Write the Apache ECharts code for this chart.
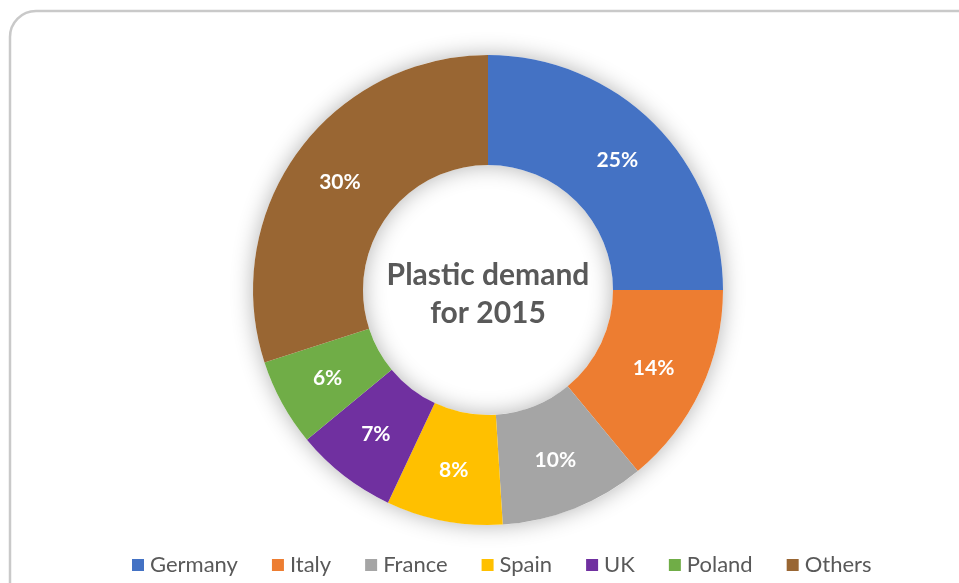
<!DOCTYPE html>
<html>
<head>
<meta charset="utf-8">
<script src="https://cdn.jsdelivr.net/npm/echarts@6/dist/echarts.min.js"></script>
<style>
  html, body { margin: 0; padding: 0; background: #ffffff; }
  #chart { width: 959px; height: 583px; }
</style>
</head>
<body>
<div id="chart"></div>
<script>
// Plastic demand share by country, 2015 (percent)
const countries = ['Germany', 'Italy', 'France', 'Spain', 'UK', 'Poland', 'Others'];
const shares = [25, 14, 10, 8, 7, 6, 30];
const colors = ['#4472C4', '#ED7D31', '#A5A5A5', '#FFC000', '#7030A0', '#70AD47', '#996633'];
const centerTitle = 'Plastic demand\nfor 2015';

const FONT = 'Lato, "Open Sans", sans-serif';
const CENTER = [488, 290];
const RADIUS = [125, 235];

const chart = echarts.init(document.getElementById('chart'), null, { renderer: 'canvas' });

chart.setOption({
  animation: false,
  backgroundColor: '#ffffff',
  color: colors,
  graphic: [
    {
      type: 'rect',
      silent: true,
      z: -10,
      shape: { x: 10, y: 11, width: 980, height: 600, r: 26 },
      style: { fill: '#ffffff', stroke: '#c9c9c9', lineWidth: 2.5 }
    },
    {
      type: 'text',
      silent: true,
      z: 10,
      x: CENTER[0],
      y: CENTER[1] + 4,
      style: {
        text: centerTitle,
        fill: '#595959',
        font: 'bold 30px ' + FONT,
        align: 'center',
        verticalAlign: 'middle',
        lineHeight: 38
      }
    }
  ],
  legend: {
    bottom: 2,
    left: 127,
    itemWidth: 12,
    itemHeight: 12,
    itemGap: 34,
    icon: 'rect',
    textStyle: { color: '#595959', fontSize: 22, fontFamily: FONT, padding: [0, 0, 0, 1] },
    data: countries
  },
  series: [
    {
      // soft shadow ring underneath the slices
      type: 'pie',
      silent: true,
      legendHoverLink: false,
      center: CENTER,
      radius: RADIUS,
      label: { show: false },
      labelLine: { show: false },
      tooltip: { show: false },
      itemStyle: {
        color: '#ffffff',
        shadowBlur: 22,
        shadowColor: 'rgba(0,0,0,0.3)'
      },
      data: [{ name: '', value: 1 }],
      z: 1
    },
    {
      type: 'pie',
      center: CENTER,
      radius: RADIUS,
      startAngle: 90,
      clockwise: true,
      avoidLabelOverlap: false,
      itemStyle: { borderWidth: 0 },
      label: {
        show: true,
        position: 'inside',
        formatter: (p) => p.value + '%',
        color: '#ffffff',
        fontSize: 21,
        fontWeight: 'bold',
        fontFamily: FONT
      },
      labelLine: { show: false },
      emphasis: { disabled: true },
      data: countries.map((c, i) => ({ name: c, value: shares[i] })),
      z: 2
    }
  ]
});
</script>
</body>
</html>
